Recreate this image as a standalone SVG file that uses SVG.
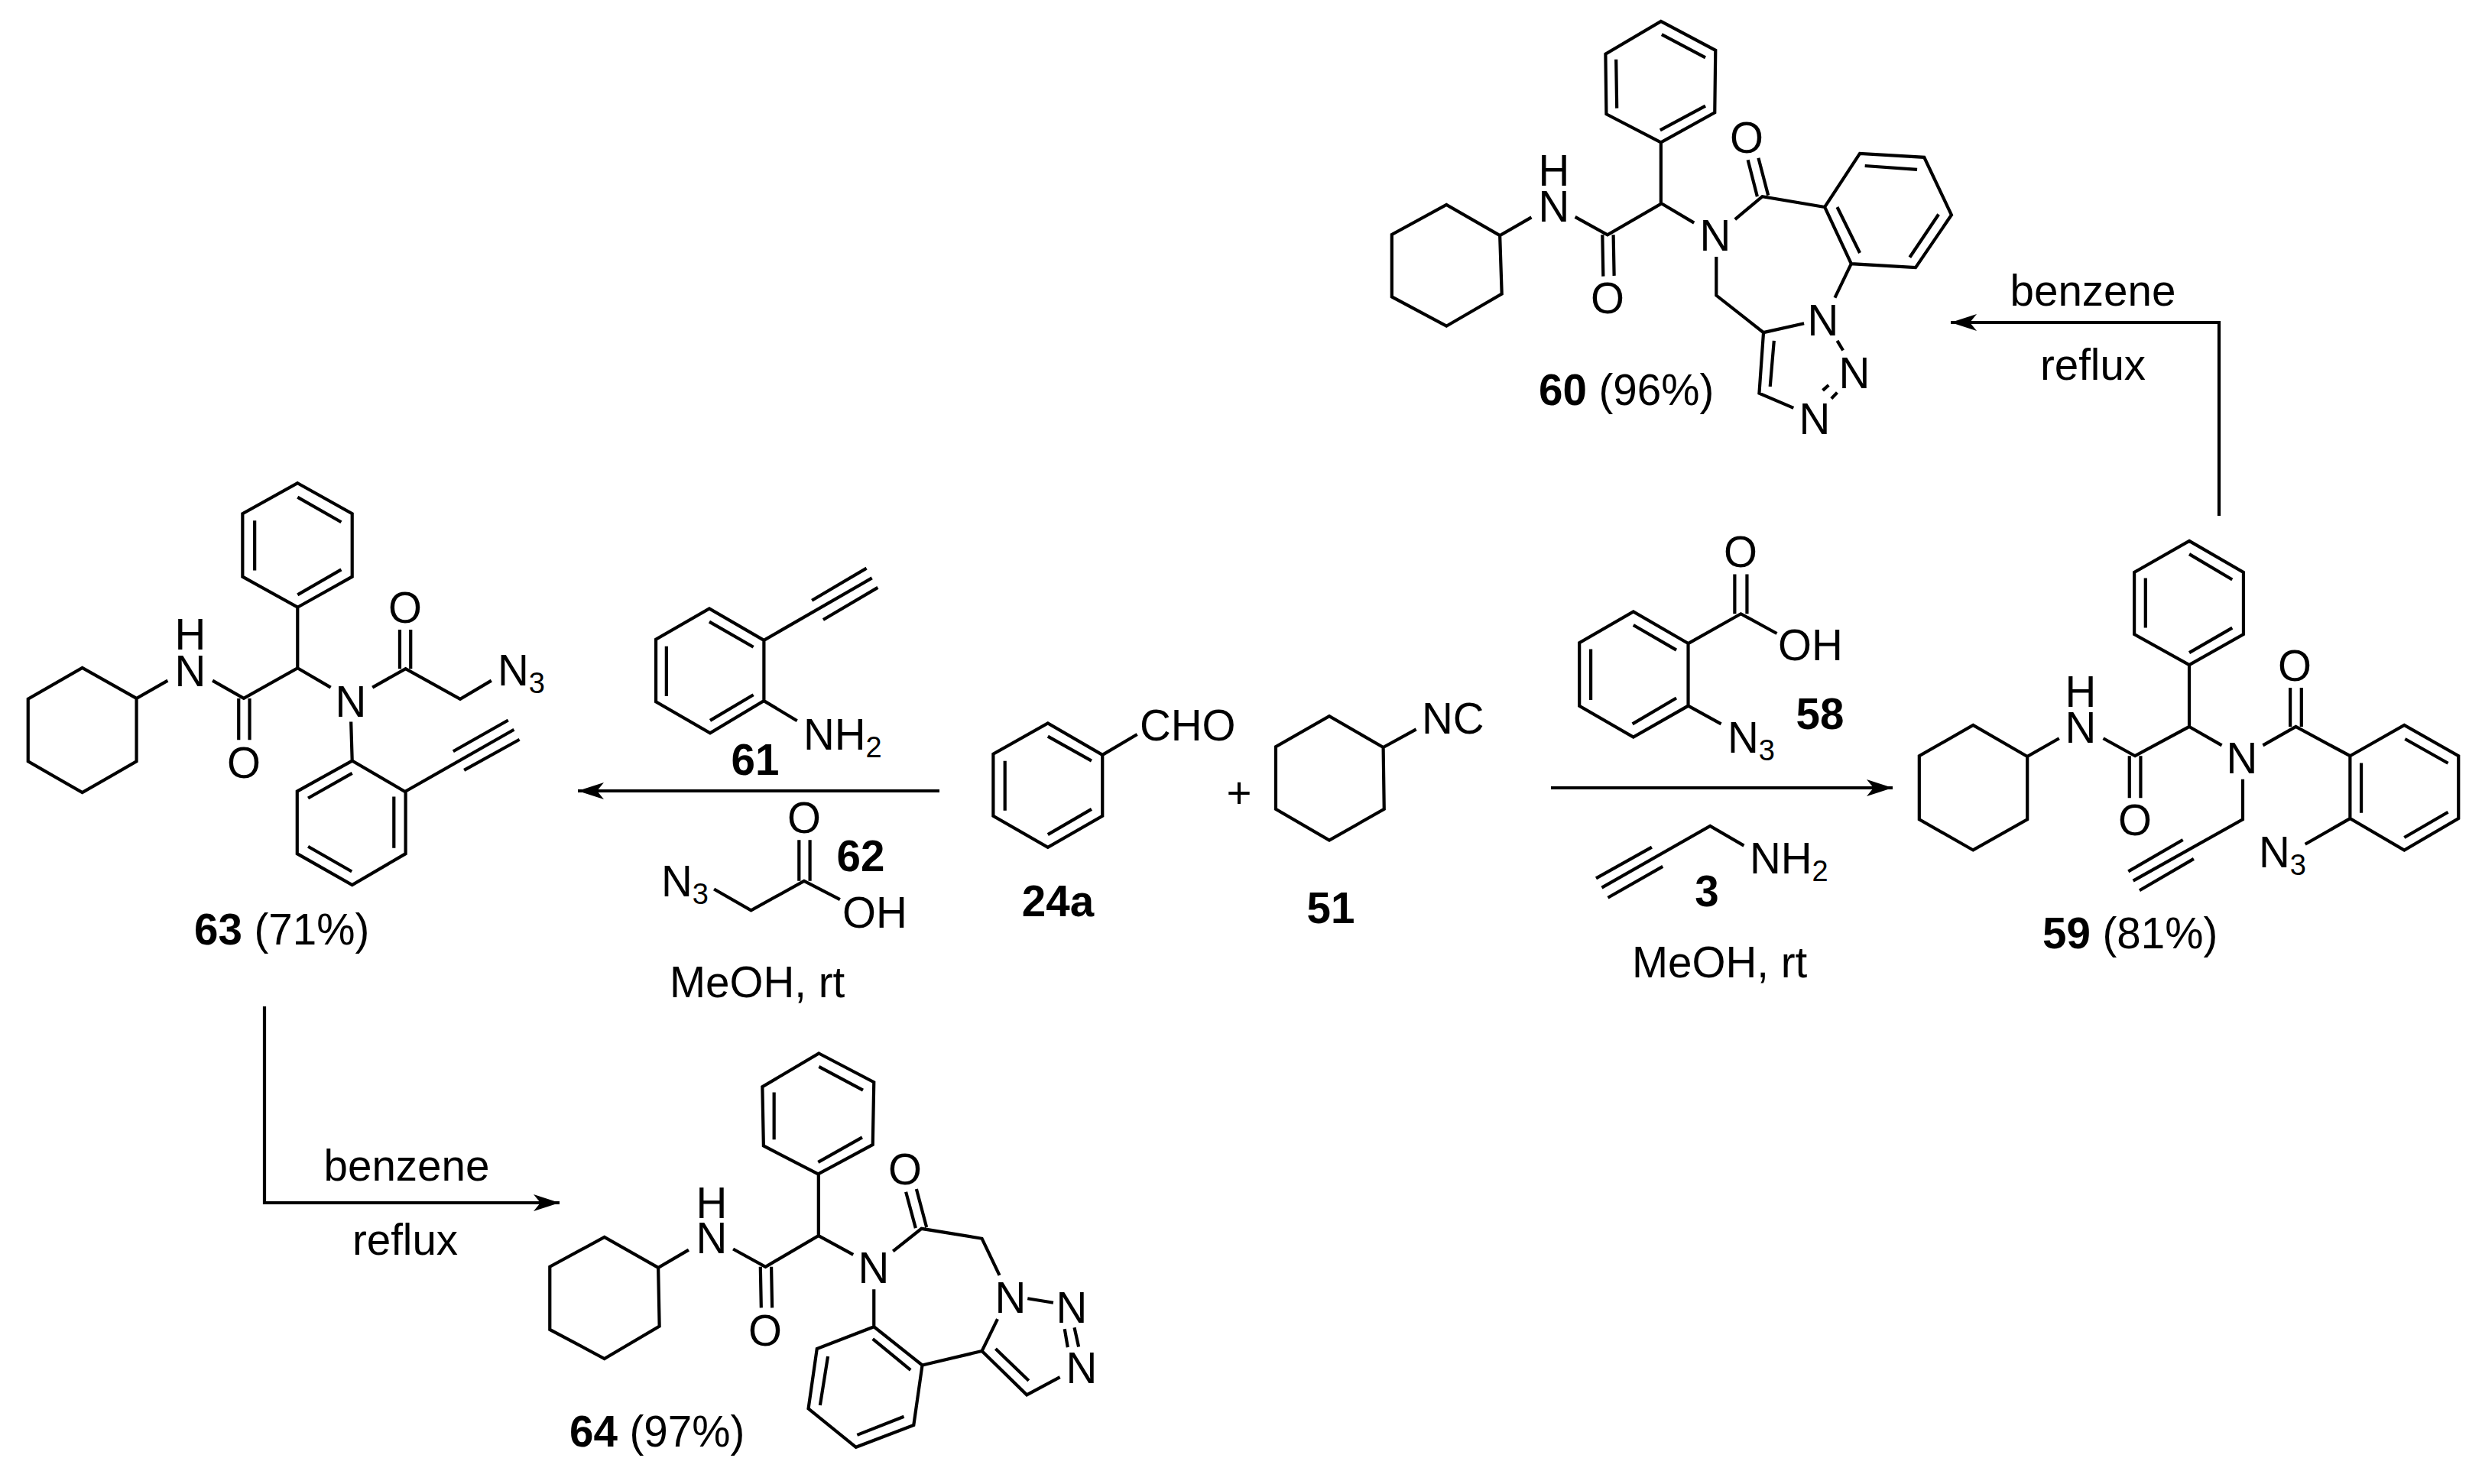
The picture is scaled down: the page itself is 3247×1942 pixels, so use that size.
<svg xmlns="http://www.w3.org/2000/svg" width="3247" height="1942" viewBox="0 0 3247 1942">
<style>
text{font-family:"Liberation Sans",Arial,sans-serif;font-size:56.5px;fill:#000}
.m{text-anchor:middle}
.b{font-weight:bold}
.s{font-size:38px}
.bond{fill:none;stroke:#000;stroke-width:4.2;stroke-linejoin:miter;vector-effect:non-scaling-stroke}
.arrow{fill:none;stroke:#000;stroke-width:4.2;marker-end:url(#head)}
</style>
<defs>
<marker id="head" markerUnits="userSpaceOnUse" markerWidth="36" markerHeight="24" viewBox="0 -12 36 24" refX="34" refY="0" orient="auto"><path d="M0 -11L34 0L0 11L9 0Z" fill="#000"/></marker>
</defs>
<rect width="3247" height="1942" fill="#fff"/>
<g id="connectors">
<path class="arrow" d="M2903 675V422H2552"/>
<path class="arrow" d="M346 1317V1574H732"/>
<path class="arrow" d="M1229 1035H756"/>
<path class="arrow" d="M2029 1031H2476"/>
</g>
<g id="node-60">
<path class="bond" transform="translate(1780 0) scale(.5102 .3827)" d="M770 73L910 172L908 385L770 487L630 390L628 185ZM772 118L884 197M884 362L768 445M655 203L657 370M770 487V697L633 803L550 742M620 803L622 945M648 803L650 943M438 743L357 805L362 1005L220 1115L80 1015L80 802L220 700L357 805M773 697L855 762M960 750L1030 672L1190 708M1017 672L993 547M1045 668L1020 540M1190 708L1280 525L1445 538L1515 735L1423 915L1258 902ZM1293 567L1427 580M1482 733L1408 880M1222 708L1280 865M1258 902L1216 1018M912 878V1010L1033 1137L1137 1106M1033 1137L1022 1345L1110 1395M1060 1165L1050 1322M1222 1165L1237 1198M1185 1335L1200 1317M1207 1363L1222 1342"/>
<text class="m" x="2033" y="243">H</text><text class="m" x="2033" y="290">N</text>
<text class="m" x="2103" y="410">O</text><text class="m" x="2285" y="200">O</text>
<text class="m" x="2244" y="328">N</text><text class="m" x="2385" y="439">N</text>
<text class="m" x="2426" y="508">N</text><text class="m" x="2374" y="568">N</text>
<text x="2013" y="530"><tspan class="b">60</tspan> (96%)</text>
</g>
<g id="node-63">
<path class="bond" transform="translate(0 620) scale(.5102 .4082)" d="M763 30L903 128V330L763 428L622 330V128ZM763 75L875 155M875 307L763 388M653 150V310M763 428V623L625 720L545 663M612 720V853M640 720V853M430 663L350 720V922L211 1022L72 922V722L211 622L350 720M763 623L848 685M955 685L1040 625L1180 722L1260 663M1025 625V500M1053 625V500M900 795L903 920L1040 1020V1218L903 1318L762 1218V1018L903 920M903 960L790 1040M1010 1035V1200M790 1195L902 1275M1040 1018L1318 820M1162 890L1303 790M1190 950L1332 852"/>
<text class="m" x="249" y="850">H</text><text class="m" x="249" y="898">N</text>
<text class="m" x="319" y="1018">O</text><text class="m" x="530" y="815">O</text>
<text class="m" x="459" y="938">N</text><text x="651" y="897">N<tspan class="s" dy="10">3</tspan></text>
<text x="254" y="1236"><tspan class="b">63</tspan> (71%)</text>
</g>
<g id="node-64">
<path class="bond" transform="translate(680 1360) scale(.5102 .3699)" d="M767 50L908 152L905 373L765 477L625 377L622 168ZM767 97L880 180M878 347L765 435M652 188V355M766 477V695L630 805L547 742M617 805L619 950M645 805L647 950M433 745L355 808L358 1015L217 1130L77 1027V805L217 700L355 808M766 695L855 762M957 750L1030 670L1185 705L1230 835M1015 668L990 540M1043 665L1017 530M908 885V1017L1032 1153L1010 1365L862 1443L740 1307L762 1095L908 1017M905 1060L1002 1170M985 1335L865 1400M770 1295L790 1122M1032 1153L1185 1103L1225 990M1185 1103L1300 1258L1385 1195M1220 1095L1305 1208M1302 917L1368 932M1397 1025L1405 1090M1422 1020L1433 1088"/>
<text class="m" x="931" y="1594">H</text><text class="m" x="931" y="1640">N</text>
<text class="m" x="1001" y="1761">O</text><text class="m" x="1184" y="1550">O</text>
<text class="m" x="1143" y="1679">N</text><text class="m" x="1322" y="1718">N</text>
<text class="m" x="1402" y="1731">N</text><text class="m" x="1415" y="1810">N</text>
<text x="745" y="1893"><tspan class="b">64</tspan> (97%)</text>
</g>
<g id="node-59">
<path class="bond" transform="translate(2480 680) scale(.4892 .3827)" d="M785 73L930 180V392L785 497L638 392V180ZM785 118L900 205M900 370L785 455M668 200V370M785 497V708L640 808L555 748M625 808V952M655 808V952M437 748L352 810V1025L207 1130L63 1025V808L207 703L352 810M785 708L872 772M982 772L1070 708L1215 808M1215 808L1360 703L1505 808V1022L1360 1130L1215 1022ZM1055 708V575M1085 708V575M1362 750L1477 833M1477 1000L1360 1087M1245 832V1003M1215 1022L1095 1110M928 888V1025L635 1235M768 1095L622 1203M797 1160L652 1268"/>
<text class="m" x="2722" y="925">H</text><text class="m" x="2722" y="972">N</text>
<text class="m" x="2793" y="1093">O</text><text class="m" x="3002" y="891">O</text>
<text class="m" x="2933" y="1012">N</text><text x="2955" y="1135">N<tspan class="s" dy="10">3</tspan></text>
<text x="2672" y="1241"><tspan class="b">59</tspan> (81%)</text>
</g>
<g id="node-61">
<path class="bond" transform="translate(780 760) scale(.5102 .3571)" d="M430 218L290 102L153 215V443L292 558L430 440ZM290 150L403 243M180 240V423M292 512L403 418M430 440L515 513M430 218L707 -10M553 72L693 -46M582 143L722 25"/>
<text x="1051" y="981">NH<tspan class="s" dy="10">2</tspan></text>
<text class="m b" x="988" y="1014">61</text>
</g>
<g id="node-62">
<path class="bond" transform="translate(780 760) scale(.5102 .3571)" d="M520 1100V950M548 1100V950M302 1130L397 1208L533 1100L625 1168"/>
<text class="m" x="1052" y="1090">O</text>
<text x="865" y="1173">N<tspan class="s" dy="10">3</tspan></text>
<text x="1102" y="1214">OH</text>
<text class="m b" x="1126" y="1140">62</text>
<text x="876" y="1305">MeOH, rt</text>
</g>
<g id="node-24a">
<path class="bond" transform="translate(780 760) scale(.5102 .3571)" d="M1298 638L1158 522L1018 635V862L1158 977L1298 862ZM1158 570L1270 660M1048 660V842M1158 930L1270 837M1298 638L1387 563"/>
<text x="1491" y="969">CHO</text>
<text class="m b" x="1384" y="1199">24a</text>
</g>
<g id="node-plus"><text class="m" x="1621" y="1057">+</text></g>
<g id="node-51">
<path class="bond" transform="translate(1580 680) scale(.574 .4082)" d="M400 730L277 630L155 728V928L277 1028L402 928ZM400 730L475 672"/>
<text x="1860" y="960">NC</text>
<text class="m b" x="1741" y="1208">51</text>
</g>
<g id="node-58">
<path class="bond" transform="translate(1580 680) scale(.574 .4082)" d="M1095 397L970 295L847 395V597L970 697L1095 597ZM970 338L1068 418M873 415V578M968 655L1068 572M1095 397L1215 302L1297 365M1201 302V175M1229 302V175M1095 597L1170 655"/>
<text class="m" x="2277" y="742">O</text><text x="2326" y="864">OH</text>
<text x="2260" y="985">N<tspan class="s" dy="10">3</tspan></text>
<text class="m b" x="2381" y="954">58</text>
</g>
<g id="node-3">
<path class="bond" transform="translate(1580 680) scale(.574 .4082)" d="M1222 1045L1145 982L898 1180M1012 1050L885 1150M1037 1112L912 1212"/>
<text x="2289" y="1143">NH<tspan class="s" dy="10">2</tspan></text>
<text class="m b" x="2233" y="1186">3</text>
<text x="2135" y="1279">MeOH, rt</text>
</g>
<g id="labels">
<text class="m" x="2738" y="400">benzene</text>
<text class="m" x="2738" y="497">reflux</text>
<text class="m" x="532" y="1545">benzene</text>
<text class="m" x="530" y="1642">reflux</text>
</g>
</svg>
